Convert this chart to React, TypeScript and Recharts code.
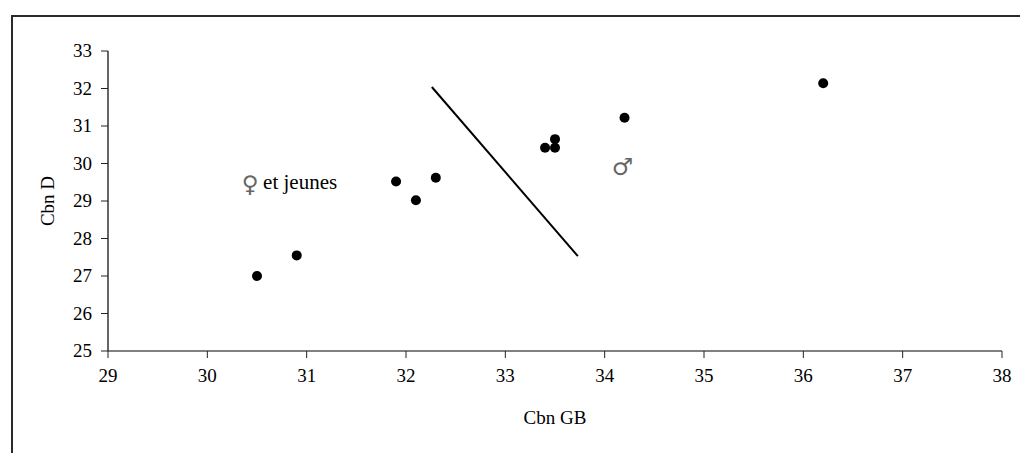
import {
  Label,
  ReferenceDot,
  ReferenceLine,
  Scatter,
  ScatterChart,
  XAxis,
  YAxis,
} from "recharts";

// Cbn GB (x) vs Cbn D (y)
const cbnGB = [30.5, 30.9, 31.9, 32.1, 32.3, 33.4, 33.5, 33.5, 34.2, 36.2];
const cbnD = [27.0, 27.55, 29.52, 29.02, 29.62, 30.42, 30.42, 30.65, 31.22, 32.14];

// separating line between the two groups
const lineX = [32.26, 33.73];
const lineY = [32.04, 27.53];

const xTicks = [29, 30, 31, 32, 33, 34, 35, 36, 37, 38];
const yTicks = [25, 26, 27, 28, 29, 30, 31, 32, 33];

// group labels, anchored in data units
const femaleLabel = { x: 30.35, y: 29.33 };
const maleLabel = { x: 34.18, y: 29.7 };

const points = cbnGB.map((x, i) => ({ x, y: cbnD[i] }));

const FONT = "Liberation Serif";
const SYMBOL_FONT = "DejaVu Sans";

const XTick = ({ x, y, payload }: any) => (
  <text
    x={x}
    y={y + 14}
    textAnchor="middle"
    fill="#000"
    style={{ fontFamily: FONT, fontSize: 19 }}
  >
    {payload.value}
  </text>
);

const YTick = ({ x, y, payload }: any) => (
  <text
    x={x}
    y={y + 6}
    textAnchor="end"
    fill="#000"
    style={{ fontFamily: FONT, fontSize: 19 }}
  >
    {payload.value}
  </text>
);

export default function App() {
  return (
    <div
      style={{
        position: "absolute",
        left: 0,
        top: 0,
        width: 1020,
        height: 453,
        overflow: "hidden",
        background: "#fff",
        fontFamily: FONT,
      }}
    >
      <div
        style={{
          position: "absolute",
          left: 11,
          top: 15,
          width: 1040,
          height: 470,
          border: "2px solid #2a2a2a",
        }}
      />
      <ScatterChart
        width={1020}
        height={453}
        margin={{ top: 51, right: 18, bottom: 27, left: 48 }}
        style={{ position: "absolute", left: 0, top: 0, fontFamily: FONT }}
      >
        <XAxis
          type="number"
          dataKey="x"
          domain={[29, 38]}
          ticks={xTicks}
          height={75}
          tickSize={7}
          tickMargin={10}
          axisLine={{ stroke: "#808080", strokeWidth: 2 }}
          tickLine={{ stroke: "#222" }}
          tick={XTick}
          allowDataOverflow
        >
          <Label
            value="Cbn GB"
            position="insideBottom"
            offset={2}
            style={{ fill: "#000", fontSize: 19, fontFamily: FONT }}
          />
        </XAxis>
        <YAxis
          type="number"
          dataKey="y"
          domain={[25, 33]}
          ticks={yTicks}
          width={60}
          tickSize={7}
          tickMargin={9}
          axisLine={{ stroke: "#333", strokeWidth: 1.5 }}
          tickLine={{ stroke: "#222" }}
          tick={YTick}
          allowDataOverflow
        >
          <Label
            content={({ viewBox }: any) => {
              const cy = viewBox.y + viewBox.height / 2;
              const cx = 47;
              return (
                <text
                  x={cx}
                  y={cy}
                  transform={`rotate(-90 ${cx} ${cy})`}
                  textAnchor="middle"
                  dominantBaseline="central"
                  fill="#000"
                  style={{ fontSize: 19, fontFamily: FONT }}
                >
                  Cbn D
                </text>
              );
            }}
          />
        </YAxis>
        <ReferenceLine
          segment={[
            { x: lineX[0], y: lineY[0] },
            { x: lineX[1], y: lineY[1] },
          ]}
          stroke="#000"
          strokeWidth={2}
        />
        <Scatter
          data={points}
          fill="#000"
          isAnimationActive={false}
          shape={(p: any) => <circle cx={p.cx} cy={p.cy} r={5} fill="#000" />}
        />
        <ReferenceDot
          x={femaleLabel.x}
          y={femaleLabel.y}
          r={0}
          stroke="none"
          label={(p: any) => {
            const vb = p.viewBox;
            const x = vb.x + (vb.width || 0) / 2;
            const y = vb.y + (vb.height || 0) / 2;
            return (
              <g>
                <text
                  x={x + 8}
                  y={y + 3}
                  textAnchor="middle"
                  fill="#666"
                  style={{ fontFamily: SYMBOL_FONT, fontSize: 23 }}
                >
                  ♀
                </text>
                <text
                  x={x + 21}
                  y={y}
                  fill="#000"
                  style={{ fontFamily: FONT, fontSize: 21 }}
                >
                  et jeunes
                </text>
              </g>
            );
          }}
        />
        <ReferenceDot
          x={maleLabel.x}
          y={maleLabel.y}
          r={0}
          stroke="none"
          label={(p: any) => {
            const vb = p.viewBox;
            const x = vb.x + (vb.width || 0) / 2;
            const y = vb.y + (vb.height || 0) / 2;
            return (
              <text
                x={x}
                y={y}
                textAnchor="middle"
                fill="#666"
                style={{ fontFamily: SYMBOL_FONT, fontSize: 24 }}
              >
                ♂
              </text>
            );
          }}
        />
      </ScatterChart>
    </div>
  );
}
